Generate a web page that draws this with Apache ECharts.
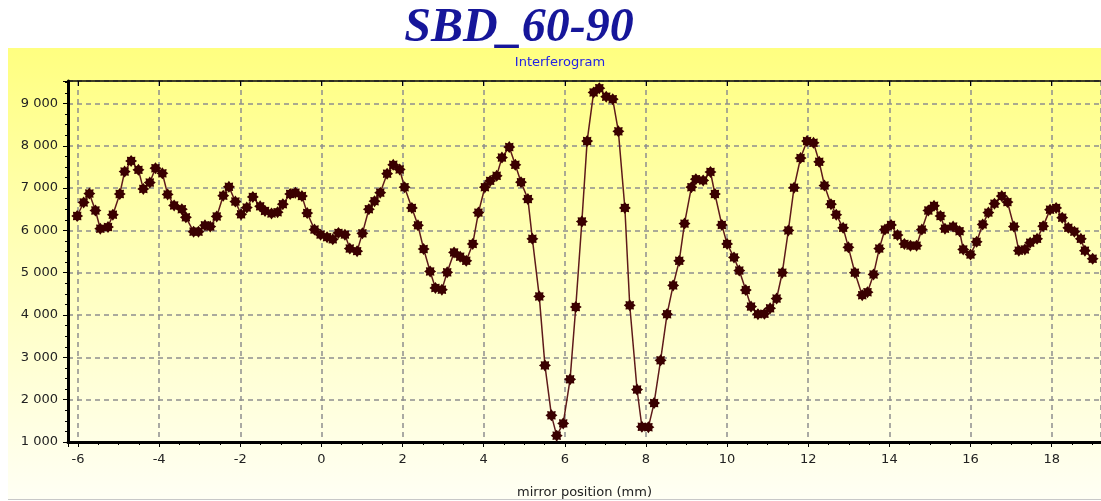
<!DOCTYPE html>
<html>
<head>
<meta charset="utf-8">
<script src="https://cdn.jsdelivr.net/npm/echarts@6/dist/echarts.min.js"></script>
<style>
html,body{margin:0;padding:0;background:#ffffff;}
#wrap{position:relative;width:1101px;height:501px;overflow:hidden;}
#panel{position:absolute;left:8px;top:48px;width:1093px;height:451px;
  background:linear-gradient(to bottom,#ffff80 0%,#ffffb8 45%,#fffff4 100%);
  border-bottom:1px solid #c8c8c8;}
#c{position:absolute;left:0;top:0;width:1101px;height:501px;}
</style>
</head>
<body>
<div id="wrap"><div id="panel"></div><div id="c"></div></div>
<script>
const chartTitle = 'SBD_60-90';
const subTitle = 'Interferogram';
const xAxisName = 'mirror position (mm)';

// mirror position (mm)
const positions = [-6.02,-5.86,-5.72,-5.57,-5.45,-5.26,-5.14,-4.97,-4.85,-4.69,-4.51,-4.39,-4.23,-4.09,-3.92,-3.79,-3.63,-3.44,-3.34,-3.15,-3.03,-2.87,-2.74,-2.58,-2.42,-2.28,-2.12,-1.98,-1.84,-1.69,-1.51,-1.39,-1.23,-1.08,-0.95,-0.77,-0.64,-0.48,-0.35,-0.17,-0.02,0.14,0.28,0.42,0.58,0.70,0.88,1.01,1.17,1.31,1.45,1.62,1.77,1.93,2.05,2.23,2.38,2.52,2.68,2.81,2.97,3.10,3.27,3.42,3.57,3.73,3.87,4.03,4.16,4.32,4.45,4.63,4.78,4.92,5.09,5.20,5.37,5.51,5.67,5.80,5.96,6.13,6.27,6.42,6.55,6.71,6.85,7.02,7.18,7.32,7.48,7.60,7.78,7.90,8.06,8.20,8.36,8.52,8.67,8.82,8.95,9.12,9.23,9.41,9.59,9.70,9.87,10.00,10.17,10.30,10.46,10.59,10.76,10.92,11.06,11.22,11.36,11.51,11.65,11.81,11.97,12.13,12.27,12.40,12.56,12.69,12.86,12.99,13.15,13.33,13.46,13.61,13.75,13.89,14.04,14.20,14.37,14.52,14.67,14.80,14.96,15.10,15.26,15.37,15.57,15.73,15.82,16.00,16.15,16.30,16.44,16.59,16.77,16.91,17.07,17.19,17.34,17.47,17.64,17.79,17.96,18.11,18.26,18.41,18.56,18.72,18.82,19.01];

// interferogram intensity
const intensities = [6340,6660,6870,6470,6040,6080,6370,6860,7390,7640,7430,6980,7130,7470,7350,6850,6590,6500,6310,5970,5970,6120,6090,6330,6820,7030,6680,6380,6540,6790,6570,6460,6400,6430,6620,6860,6890,6810,6410,6020,5900,5840,5790,5940,5900,5570,5510,5930,6500,6690,6890,7340,7550,7440,7020,6530,6120,5560,5030,4640,4600,5010,5480,5380,5280,5680,6420,7020,7170,7290,7720,7970,7550,7140,6740,5800,4440,2810,1630,1150,1440,2480,4190,6210,8110,9260,9360,9160,9100,8340,6530,4230,2240,1360,1350,1920,2930,4020,4700,5280,6160,7020,7210,7180,7380,6860,6130,5680,5360,5050,4590,4200,4020,4030,4160,4390,5000,6000,7010,7710,8110,8070,7620,7060,6620,6370,6060,5600,5000,4470,4540,4960,5570,6020,6130,5890,5680,5640,5640,6020,6470,6580,6340,6040,6090,5980,5550,5430,5730,6140,6420,6630,6810,6670,6090,5520,5550,5710,5800,6100,6490,6530,6300,6060,5970,5800,5520,5330];

const seriesData = positions.map((x, i) => [x, intensities[i]]);

const starSymbol = 'path://M20,10 L16.47,12.68 L17.07,17.07 L12.68,16.47 L10,20 L7.32,16.47 L2.93,17.07 L3.53,12.68 L0,10 L3.53,7.32 L2.93,2.93 L7.32,3.53 L10,0 L12.68,3.53 L17.07,2.93 L16.47,7.32 Z';

const labelFont = '"DejaVu Sans", sans-serif';
const gridDash = { color: '#8e8e8e', width: 1.5, type: [5, 4] };

function fmtY(v) {
  if (Math.abs(v % 1000) > 1e-6) return '';
  return String(v).replace(/\B(?=(\d{3})+(?!\d))/g, ' ');
}
function fmtX(v) {
  const r = Math.round(v);
  if (Math.abs(v - r) > 1e-6 || r % 2 !== 0) return '';
  return String(r);
}

const chart = echarts.init(document.getElementById('c'), null, { renderer: 'canvas' });
chart.setOption({
  backgroundColor: 'transparent',
  animation: false,
  title: [
    {
      text: chartTitle,
      left: 514, top: 0, textAlign: 'center',
      textStyle: { fontFamily: '"Liberation Serif", serif', fontStyle: 'italic', fontWeight: 'bold', fontSize: 48, color: '#16169a' }
    },
    {
      text: subTitle,
      left: 555, top: 51, textAlign: 'center',
      textStyle: { fontFamily: labelFont, fontWeight: 'normal', fontSize: 13, color: '#2323e6' }
    }
  ],
  grid: { left: 68, right: 0, top: 81, bottom: 59, containLabel: false, outerBoundsMode: 'none' },
  xAxis: [
    {
      type: 'value',
      position: 'bottom',
      min: -6.246, max: 19.216,
      splitNumber: 12,
      name: xAxisName,
      nameLocation: 'middle',
      nameGap: 44,
      nameTextStyle: { fontFamily: labelFont, fontSize: 13, color: '#222222' },
      axisLine: { show: true, onZero: false, lineStyle: { color: '#000000', width: 3 } },
      axisTick: { show: true, inside: false, length: 5, lineStyle: { color: '#000000', width: 1 } },
      minorTick: { show: true, splitNumber: 4, length: 3, lineStyle: { color: '#000000', width: 1 } },
      axisLabel: { formatter: fmtX, margin: 11, fontFamily: labelFont, fontSize: 13, color: '#222222' },
      splitLine: { show: true, lineStyle: gridDash }
    },
    {
      type: 'value',
      position: 'top',
      min: -6.246, max: 19.216,
      splitNumber: 12,
      axisLine: { show: true, onZero: false, lineStyle: { color: '#000000', width: 1.5 } },
      axisTick: { show: true, inside: true, length: 5, lineStyle: { color: '#000000', width: 1 } },
      axisLabel: { show: false },
      splitLine: { show: false }
    }
  ],
  yAxis: {
    type: 'value',
    min: 1000, max: 9530, interval: 1000,
    axisLine: { show: true, onZero: false, lineStyle: { color: '#000000', width: 3 } },
    axisTick: { show: true, inside: false, length: 5, lineStyle: { color: '#000000', width: 1 } },
    minorTick: { show: true, splitNumber: 4, length: 3, lineStyle: { color: '#000000', width: 1 } },
    axisLabel: { formatter: fmtY, margin: 10, fontFamily: labelFont, fontSize: 13, color: '#222222' },
    splitLine: { show: true, lineStyle: gridDash }
  },
  series: [
    {
      type: 'line',
      xAxisIndex: 0,
      data: seriesData,
      symbol: starSymbol,
      symbolSize: 12,
      showAllSymbol: true,
      lineStyle: { color: '#5e1a1a', width: 1.5 },
      itemStyle: { color: '#3a0000', borderWidth: 0 },
      z: 5
    }
  ]
});
</script>
</body>
</html>
